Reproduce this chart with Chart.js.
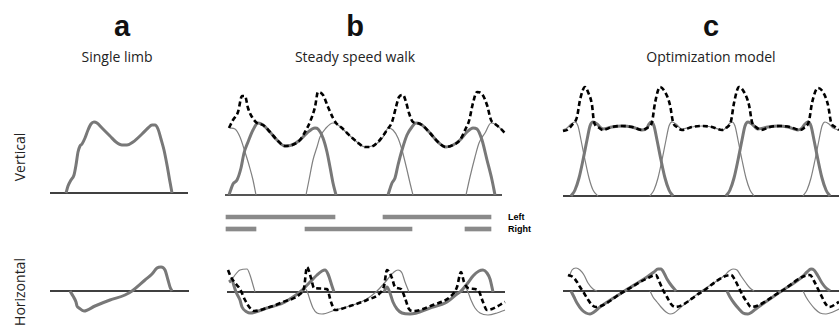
<!DOCTYPE html>
<html>
<head>
<meta charset="utf-8">
<script src="https://cdn.jsdelivr.net/npm/chart.js@4/dist/chart.umd.min.js"></script>
<style>
  html, body { margin:0; padding:0; background:#fff; }
  #stage { position:relative; width:839px; height:326px; overflow:hidden; background:#fff; }
  .panel { position:absolute; }
  .panel canvas { display:block; }
  .letter { position:absolute; font-family:"Liberation Sans", Arial, sans-serif; font-weight:bold; font-size:29px; color:#111; transform:translateX(-50%); line-height:1; }
  .sub { position:absolute; font-family:"Open Sans", "Noto Sans", sans-serif; font-size:14px; color:#222; transform:translateX(-50%); white-space:nowrap; line-height:1; }
  .rot { position:absolute; font-family:"Open Sans", "Noto Sans", sans-serif; font-size:14px; color:#222; white-space:nowrap; line-height:1; transform:translate(-50%,-50%) rotate(-90deg); }
  .leg { position:absolute; font-family:"Liberation Sans", Arial, sans-serif; font-weight:bold; font-size:9px; color:#000; line-height:1; transform:translateY(-50%); white-space:nowrap; }
</style>
</head>
<body>
<div id="stage">
  <div class="letter" style="left:122px; top:12px;">a</div>
  <div class="letter" style="left:355px; top:12px;">b</div>
  <div class="letter" style="left:711px; top:12px;">c</div>
  <div class="sub" style="left:117px; top:50px;">Single limb</div>
  <div class="sub" style="left:355px; top:50px;">Steady speed walk</div>
  <div class="sub" style="left:711px; top:50px;">Optimization model</div>
  <div class="rot" style="left:20px; top:157px;">Vertical</div>
  <div class="rot" style="left:20px; top:292px;">Horizontal</div>
</div>
<script>
// ---------- DATA (time units, force units; [time, force]) ----------
// Panel a: single limb
const aVertical = [[21,0],[23,7],[26,13],[29,18],[31,28],[33,41],[35,47],[37,49],[40,55],[43,63],[46,69],[49,71],[52,70],[57,65],[65,57],[71,51],[77,48],[82,48],[88,51],[97,59],[103,65],[107,68],[110,68],[113,64],[116,54],[119,43],[122,28],[125,11],[127,0]];
const aHorizontal = [[25,0],[28,-5],[31,-11],[32,-15],[34,-17],[39,-20],[50,-15],[65,-9],[80,-4],[87,0],[100,11],[107,17],[112,23],[116,24],[120,21],[123,11],[125,4],[127,0]];

// Panel b: steady speed walk, vertical
const bVertLeft = [
  [[9,0],[13,11],[17,15],[21,27],[24,42],[28,53],[33,65],[38,72],[43,70],[50,63],[57,55],[65,49],[72,50],[80,55],[87,62],[95,67],[98,66],[103,57],[107,43],[110,28],[113,12],[116,0]],
  [[168,0],[172,12],[175,17],[178,30],[182,45],[187,60],[192,68],[196,72],[202,70],[210,62],[218,53],[226,48],[233,50],[240,55],[247,63],[253,67],[257,66],[262,55],[267,35],[272,15],[275,0]]
];
const bVertRight = [
  [[10,67],[15,66],[20,58],[25,43],[29,30],[33,15],[36,0]],
  [[86,0],[89,15],[93,35],[97,48],[100,58],[106,67],[113,72],[118,70],[127,62],[137,53],[145,48],[152,49],[160,54],[165,61],[168,67],[173,65],[178,57],[182,45],[187,25],[190,12],[193,0]],
  [[246,0],[250,18],[255,38],[259,52],[265,62],[271,72],[275,71],[280,67],[284,63]]
];
const bVertTotal = [[9,67],[13,75],[18,83],[22,99],[25,99],[28,87],[32,78],[37,72],[43,70],[50,63],[57,55],[65,49],[72,50],[80,55],[85,63],[90,73],[95,88],[98,103],[103,100],[108,88],[113,77],[116,72],[122,67],[127,62],[137,53],[145,48],[150,48],[158,53],[167,65],[172,73],[176,88],[179,98],[183,100],[186,93],[189,82],[193,73],[197,72],[202,70],[210,62],[218,53],[226,48],[233,50],[240,55],[246,67],[249,74],[253,92],[257,103],[262,101],[267,90],[271,75],[274,72],[280,67],[285,62]];

// Panel b: stance phases (time intervals)
const stanceLabels = ['Left', 'Right'];
const leftStance = [[6,115],[163,271]];
const rightStance = [[6,36],[85,192],[245,271]];

// Panel b: horizontal
const bHorLeft = [
  [[9,10],[12,12],[14,6],[16,0],[20,-8],[22,-15],[27,-20],[30,-21],[47,-16],[63,-11],[73,-5],[80,0],[90,10],[97,17],[102,21],[105,22],[108,18],[112,6],[114,0]],
  [[164,0],[167,5],[170,-1],[173,-10],[177,-17],[182,-21],[190,-22],[210,-16],[227,-10],[237,-2],[240,0],[247,8],[253,16],[259,21],[263,22],[267,19],[270,13],[273,0]]
];
const bHorRight = [
  [[10,9],[15,17],[20,22],[27,23],[30,17],[33,7],[35,0]],
  [[82,0],[84,4],[87,1],[90,-8],[93,-16],[97,-21],[102,-22],[115,-18],[130,-14],[145,-8],[156,0],[167,12],[174,20],[178,22],[182,19],[185,10],[189,0]],
  [[242,0],[245,5],[248,0],[251,-8],[255,-16],[260,-21],[268,-23],[277,-21],[285,-18]]
];
const bHorTotal = [[8,22],[11,15],[15,9],[20,3],[25,-8],[30,-16],[34,-19],[47,-16],[63,-10],[80,-2],[84,4],[87,25],[91,14],[94,4],[107,3],[111,-10],[115,-18],[130,-14],[147,-8],[160,-1],[164,6],[167,22],[172,14],[175,5],[181,3],[185,-6],[189,-17],[193,-19],[213,-13],[233,-2],[237,5],[241,20],[244,10],[248,4],[258,2],[263,-10],[267,-18],[272,-17],[285,-10]];

// Panel c: optimization model, vertical
const cVertLeft = [
  [[16,0],[20,6],[24,18],[28,36],[32,56],[35,70],[38,74],[42,72],[46,68],[48,67],[57,69],[67,70],[77,69],[87,66],[92,68],[94,72],[96,74],[99,70],[102,56],[106,36],[110,18],[114,6],[118,0]],
  [[171,0],[175,6],[179,18],[183,36],[187,56],[190,70],[193,74],[197,72],[201,68],[203,67],[213,69],[223,70],[233,69],[243,66],[247,68],[250,72],[253,74],[256,70],[259,56],[263,36],[267,18],[271,6],[275,0]]
];
const cVertRight = [
  [[8,66],[12,68],[16,72],[20,74],[23,70],[26,56],[30,36],[34,18],[38,6],[43,0]],
  [[95,0],[99,6],[103,18],[107,36],[111,56],[114,70],[117,74],[121,72],[125,68],[127,67],[137,69],[147,70],[157,69],[167,66],[171,68],[174,72],[177,74],[180,70],[183,56],[187,36],[191,18],[195,6],[199,0]],
  [[248,0],[252,6],[256,18],[260,36],[264,56],[267,70],[270,74],[274,72],[278,68],[284,66]]
];
const cVertTotal = [[8,65],[12,66],[17,71],[22,79],[25,96],[30,109],[33,104],[37,91],[39,74],[43,69],[48,66],[57,69],[67,70],[77,69],[87,66],[92,68],[97,74],[100,93],[105,109],[110,104],[115,91],[118,74],[122,69],[127,66],[137,69],[147,70],[157,69],[167,66],[171,68],[176,75],[179,93],[184,109],[189,104],[194,91],[197,74],[201,69],[206,66],[215,69],[225,70],[235,69],[245,66],[249,68],[254,75],[257,93],[263,108],[268,104],[273,91],[276,74],[280,69],[284,66]];

// Panel c: horizontal
const cHorLeft = [
  [[16,0],[19,-6],[22,-12],[27,-19],[31,-22],[35,-23],[39,-21],[45,-16],[68,-1],[92,14],[99,19],[103,22],[106,22],[109,18],[112,12],[116,6],[121,0]],
  [[172,0],[175,-6],[179,-12],[184,-18],[188,-22],[193,-23],[197,-21],[202,-17],[225,-1],[247,14],[252,19],[256,22],[259,21],[263,15],[267,8],[271,3],[275,0]]
];
const cHorRight = [
  [[14,14],[17,21],[21,23],[25,21],[29,16],[33,8],[38,2],[42,0]],
  [[95,0],[98,-6],[102,-11],[106,-16],[111,-21],[115,-23],[119,-22],[125,-17],[145,-1],[170,16],[174,20],[178,22],[182,21],[186,15],[191,8],[195,3],[199,0]],
  [[248,0],[251,-6],[255,-12],[260,-18],[265,-22],[271,-23],[275,-22],[280,-20],[284,-18]]
];
const cHorTotal = [[13,16],[18,14],[22,9],[25,4],[29,-2],[32,-7],[37,-14],[41,-16],[68,-1],[95,14],[101,16],[104,10],[108,1],[112,-6],[116,-13],[120,-16],[145,-2],[176,16],[180,11],[184,3],[188,-5],[192,-11],[196,-16],[225,-1],[255,16],[259,10],[263,2],[267,-6],[270,-12],[274,-16],[284,-11]];

// ---------- STYLES ----------
const GRAY = '#787878';
const styles = {
  thick:  { borderColor: GRAY, borderWidth: 3, order: 2 },
  thin:   { borderColor: '#808080', borderWidth: 1.2, order: 3 },
  dashed: { borderColor: '#000', borderWidth: 2.6, borderDash: [5, 3], order: 1 },
  base:   { borderColor: '#000', borderWidth: 1.3, order: 4 },
  baseB:  { borderColor: '#555', borderWidth: 2, order: 4 }
};

function lineDS(points, style) {
  return Object.assign({
    data: points.map(p => ({ x: p[0], y: p[1] })),
    pointRadius: 0, fill: false, clip: false,
    cubicInterpolationMode: 'monotone', tension: 0.3
  }, style);
}

const stage = document.getElementById('stage');
function makeCanvas(left, top, w, h) {
  const div = document.createElement('div');
  div.className = 'panel';
  div.style.left = left + 'px'; div.style.top = top + 'px';
  div.style.width = w + 'px'; div.style.height = h + 'px';
  const c = document.createElement('canvas');
  div.appendChild(c);
  stage.appendChild(div);
  return c;
}

const common = {
  responsive: true, maintainAspectRatio: false, animation: false, events: [],
  layout: { padding: 0 },
  plugins: { legend: { display: false }, tooltip: { enabled: false }, title: { display: false } }
};

function panel(cfg) {
  const ds = [];
  ds.push(lineDS([[cfg.base[0], 0], [cfg.base[1], 0]], cfg.baseStyle || styles.base));
  (cfg.thin || []).forEach(s => ds.push(lineDS(s, styles.thin)));
  (cfg.thick || []).forEach(s => ds.push(lineDS(s, styles.thick)));
  (cfg.dashed || []).forEach(s => ds.push(lineDS(s, styles.dashed)));
  const c = makeCanvas(cfg.left, cfg.top, cfg.w, cfg.h);
  new Chart(c, {
    type: 'line',
    data: { datasets: ds },
    options: Object.assign({}, common, {
      scales: {
        x: { type: 'linear', min: 0, max: cfg.w, display: false },
        y: { type: 'linear', min: cfg.ymin, max: cfg.ymax, display: false }
      }
    })
  });
}

// a
panel({ left: 45, top: 100, w: 150, h: 100, ymin: -7, ymax: 93, base: [5, 143], thick: [aVertical] });
panel({ left: 45, top: 250, w: 150, h: 76, ymin: -35, ymax: 41, base: [5, 144], thick: [aHorizontal] });
// b
panel({ left: 220, top: 80, w: 290, h: 120, ymin: -5, ymax: 115, base: [5, 282], baseStyle: styles.baseB,
        thin: bVertRight, thick: bVertLeft, dashed: [bVertTotal] });
panel({ left: 220, top: 255, w: 290, h: 71, ymin: -34, ymax: 37, base: [7, 285],
        thin: bHorRight, thick: bHorLeft, dashed: [bHorTotal] });
// c
panel({ left: 555, top: 80, w: 284, h: 120, ymin: -4, ymax: 116, base: [8, 284],
        thin: cVertRight, thick: cVertLeft, dashed: [cVertTotal] });
panel({ left: 555, top: 255, w: 284, h: 71, ymin: -35, ymax: 36, base: [8, 284],
        thin: cHorRight, thick: cHorLeft, dashed: [cHorTotal] });

// b stance bars (floating horizontal bars), rows labelled Left / Right
(function () {
  const left = 220, top = 211, w = 285, h = 24;
  const nSeg = Math.max(leftStance.length, rightStance.length);
  const ds = [];
  for (let i = 0; i < nSeg; i++) {
    ds.push({
      data: [leftStance[i] || null, rightStance[i] || null],
      backgroundColor: '#8a8a8a', borderWidth: 0, barThickness: 4, grouped: false
    });
  }
  const c = makeCanvas(left, top, w, h);
  new Chart(c, {
    type: 'bar',
    data: { labels: stanceLabels, datasets: ds },
    options: Object.assign({}, common, {
      indexAxis: 'y',
      scales: {
        x: { type: 'linear', min: 0, max: w, display: false },
        y: { type: 'category', offset: true, display: false }
      }
    })
  });
  // row labels at the right end of each row
  stanceLabels.forEach((lab, i) => {
    const d = document.createElement('div');
    d.className = 'leg';
    d.textContent = lab;
    d.style.left = (left + w + 3) + 'px';
    d.style.top = (top + h * (2 * i + 1) / (2 * stanceLabels.length)) + 'px';
    stage.appendChild(d);
  });
})();
</script>
</body>
</html>
